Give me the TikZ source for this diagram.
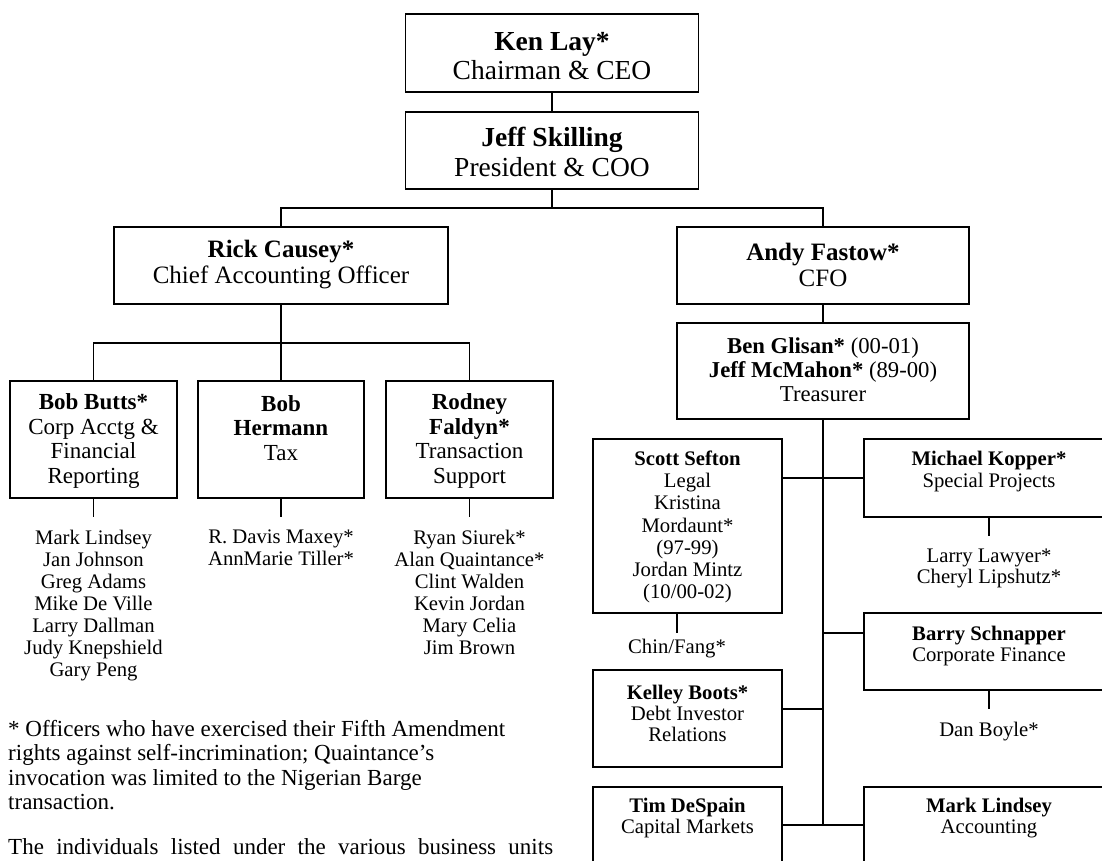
\documentclass[tikz,border=0pt]{standalone}
\usepackage{fontspec}
\setmainfont{Liberation Serif}
\begin{document}
\begin{tikzpicture}[x=1pt,y=-1pt,
  box/.style={draw, rectangle, line width=1.4pt, inner sep=0pt},
  link/.style={line width=1.3pt},
  label/.style={align=center, inner sep=0pt},
  fbig/.style={font=\fontsize{27.5}{29.5}\selectfont},
  fmid/.style={font=\fontsize{25}{26}\selectfont},
  fstd/.style={font=\fontsize{23}{24.7}\selectfont},
  ftrs/.style={font=\fontsize{22.7}{24}\selectfont},
  fsml/.style={font=\fontsize{20.7}{22}\selectfont},
  names/.style={align=center, inner sep=12.5pt, anchor=north, font=\fontsize{20.7}{22}\selectfont},
  fnote/.style={font=\fontsize{23}{24.5}\selectfont}
]
\useasboundingbox (0,0) rectangle (1102,860);
\clip (0,0) rectangle (1102,860);

% ---- boxes ----
\node[box, minimum width=293pt, minimum height=78pt] (kenlay) at (552,53) {};
\node[box, minimum width=293pt, minimum height=77pt] (skilling) at (552,150.5) {};
\node[box, minimum width=334pt, minimum height=77pt] (causey) at (281,265.5) {};
\node[box, minimum width=292pt, minimum height=77pt] (fastow) at (823,265.5) {};
\node[box, minimum width=292pt, minimum height=96pt] (glisan) at (823,371) {};
\node[box, minimum width=167pt, minimum height=117pt] (butts) at (93.5,439.5) {};
\node[box, minimum width=166pt, minimum height=117pt] (hermann) at (281,439.5) {};
\node[box, minimum width=167pt, minimum height=117pt] (faldyn) at (469.5,439.5) {};
\node[box, minimum width=189pt, minimum height=174pt] (sefton) at (687.5,526) {};
\node[box, minimum width=250pt, minimum height=78pt] (kopper) at (989,478) {};
\node[box, minimum width=250pt, minimum height=77pt] (barry) at (989,651.5) {};
\node[box, minimum width=189pt, minimum height=97pt] (kelley) at (687.5,718.5) {};
\node[box, minimum width=189pt, minimum height=100pt] (despain) at (687.5,837) {};
\node[box, minimum width=250pt, minimum height=100pt] (mlindsey) at (989,837) {};

% ---- box texts ----
\node[label, fbig] (kenlay-t) at (552,56) {\textbf{Ken Lay*}\\Chairman \& CEO};
\node[label, fbig] (skilling-t) at (552,152) {\textbf{Jeff Skilling}\\President \& COO};
\node[label, fmid] (causey-t) at (281,265) {\textbf{Rick Causey*}\\Chief Accounting Officer};
\node[label, fmid] (fastow-t) at (823,264.5) {\textbf{Andy Fastow*}\\CFO};
\node[label, ftrs] (glisan-t) at (823,370) {\textbf{Ben Glisan*} (00-01)\\\textbf{Jeff McMahon*} (89-00)\\Treasurer};
\node[label, fstd] (butts-t) at (93.5,441) {\textbf{Bob Butts*}\\Corp Acctg \&\\Financial\\Reporting};
\node[label, fstd] (hermann-t) at (281,428) {\textbf{Bob}\\\textbf{Hermann}\\Tax};
\node[label, fstd] (faldyn-t) at (469.5,441) {\textbf{Rodney}\\\textbf{Faldyn*}\\Transaction\\Support};
\node[label, fsml, font=\fontsize{20.7}{22.3}\selectfont] (sefton-t) at (687.5,527) {\textbf{Scott Sefton}\\Legal\\Kristina\\Mordaunt*\\(97-99)\\Jordan Mintz\\(10/00-02)};
\node[label, fsml, font=\fontsize{20.7}{22.5}\selectfont] (kopper-t) at (989,471.5) {\textbf{Michael Kopper*}\\Special Projects};
\node[label, fsml, font=\fontsize{20.7}{21}\selectfont] (barry-t) at (989,646) {\textbf{Barry Schnapper}\\Corporate Finance};
\node[label, fsml, font=\fontsize{20.7}{21}\selectfont] (kelley-t) at (687.5,713.5) {\textbf{Kelley Boots*}\\Debt Investor\\Relations};
\node[label, fsml, font=\fontsize{20.7}{21}\selectfont] (despain-t) at (687.5,818.5) {\textbf{Tim DeSpain}\\Capital Markets};
\node[label, fsml, font=\fontsize{20.7}{21}\selectfont] (mlindsey-t) at (989,818.5) {\textbf{Mark Lindsey}\\Accounting};

% ---- staff lists ----
\node[names] (butts-list) at (93.5,517) {Mark Lindsey\\Jan Johnson\\Greg Adams\\Mike De Ville\\Larry Dallman\\Judy Knepshield\\Gary Peng};
\node[names] (hermann-list) at (281,517) {R. Davis Maxey*\\AnnMarie Tiller*};
\node[names] (faldyn-list) at (469.5,517) {Ryan Siurek*\\Alan Quaintance*\\Clint Walden\\Kevin Jordan\\Mary Celia\\Jim Brown};
\node[names, font=\fontsize{20.7}{21.5}\selectfont] (kopper-list) at (989,536) {Larry Lawyer*\\Cheryl Lipshutz*};
\node[names, inner sep=6pt] (chin) at (677,633) {Chin/Fang*};
\node[names] (boyle) at (989,709) {Dan Boyle*};

% ---- junctions ----
\coordinate (topbus) at (552,208);
\coordinate (leftbus) at (281,343);
\coordinate (trunkend) at (823,825);
\coordinate (jbarry) at (823,633);
\coordinate (jkelley) at (823,709);

% ---- connectors ----
\draw[link] (kenlay.south) -- (skilling.north);
\draw[link] (skilling.south) -- (topbus);
\draw[link] (causey.north) |- (topbus) -| (fastow.north);
\draw[link] (causey.south) -- (hermann.north);
\draw[link] (butts.north) |- (leftbus) -| (faldyn.north);
\draw[link] (fastow.south) -- (glisan.north);
\draw[link] (glisan.south) -- (trunkend);
\draw[link] (sefton.east |- kopper.west) -- (kopper.west);
\draw[link] (jbarry) -- (jbarry -| barry.west);
\draw[link] (kelley.east |- jkelley) -- (jkelley);
\draw[link] (despain.east |- trunkend) -- (mlindsey.west |- trunkend);

\draw[link] (butts.south) -- (butts-list.north);
\draw[link] (hermann.south) -- (hermann-list.north);
\draw[link] (faldyn.south) -- (faldyn-list.north);
\draw[link] (kopper.south) -- (kopper-list.north);
\draw[link] (chin.north |- sefton.south) -- (chin.north);
\draw[link] (barry.south) -- (boyle.north);

% ---- footnote ----
\node[fnote, align=left, inner sep=0pt, anchor=north west] (note) at (8,720)
  {* Officers who have exercised their Fifth Amendment\\
   rights against self-incrimination; Quaintance’s\\
   invocation was limited to the Nigerian Barge\\
   transaction.\\[20pt]
   \makebox[545pt][s]{The individuals listed under the various business units}};
\end{tikzpicture}
\end{document}
